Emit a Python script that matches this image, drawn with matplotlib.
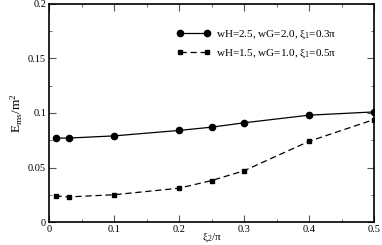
import numpy as np
import matplotlib
matplotlib.use("Agg")
import matplotlib.pyplot as plt
from matplotlib.ticker import MultipleLocator

plt.rcParams['font.family'] = ['Liberation Serif', 'DejaVu Serif']
plt.rcParams['mathtext.fontset'] = 'stix'

# data
xi2 = [0.01, 0.03, 0.1, 0.2, 0.25, 0.3, 0.4, 0.5]
e_a = [0.077, 0.077, 0.079, 0.084, 0.087, 0.091, 0.098, 0.101]
e_b = [0.024, 0.023, 0.025, 0.031, 0.038, 0.047, 0.074, 0.094]
label_a = r'wH=2.5, wG=2.0, $\mathregular{\xi_1}$=0.3$\mathregular{\pi}$'
label_b = r'wH=1.5, wG=1.0, $\mathregular{\xi_1}$=0.5$\mathregular{\pi}$'

fig = plt.figure(figsize=(3.82, 2.45), dpi=100)
ax = fig.add_axes([49/382, 23/245, 325/382, 218/245])

ax.plot(xi2, e_a, 'k-', marker='o', ms=4.5, lw=0.9, label=label_a)
ax.plot(xi2, e_b, color='k', ls=(0, (5, 3)), marker='s', ms=3.2, lw=0.9, label=label_b)

ax.set_xlim(0, 0.5)
ax.set_ylim(0, 0.2)
ax.xaxis.set_minor_locator(MultipleLocator(0.05))
ax.yaxis.set_minor_locator(MultipleLocator(0.025))
ax.set_xticks([0, 0.1, 0.2, 0.3, 0.4, 0.5])
ax.set_xticklabels(['0', '0.1', '0.2', '0.3', '0.4', '0.5'])
ax.set_yticks([0, 0.05, 0.1, 0.15, 0.2])
ax.set_yticklabels(['0', '0.05', '0.1', '0.15', '0.2'])
ax.tick_params(which='both', direction='in', top=True, right=True, labelsize=7.5,
               color='#555555', pad=2)
ax.tick_params(which='major', length=5)
ax.tick_params(which='minor', length=2.5)
for s in ax.spines.values():
    s.set_linewidth(1.2)

ax.set_xlabel(r'$\mathregular{\xi_2/\pi}$', fontsize=8, labelpad=-2)
ax.set_ylabel(r'$\mathregular{E_{ms}/m^2}$', fontsize=9.5, labelpad=2)

ax.legend(loc='upper left', bbox_to_anchor=(0.37, 0.925), frameon=False, numpoints=2,
          fontsize=8, handlelength=3.0, handletextpad=0.5, labelspacing=0.6,
          borderpad=0.2)

fig.savefig('out.png', dpi=100)
